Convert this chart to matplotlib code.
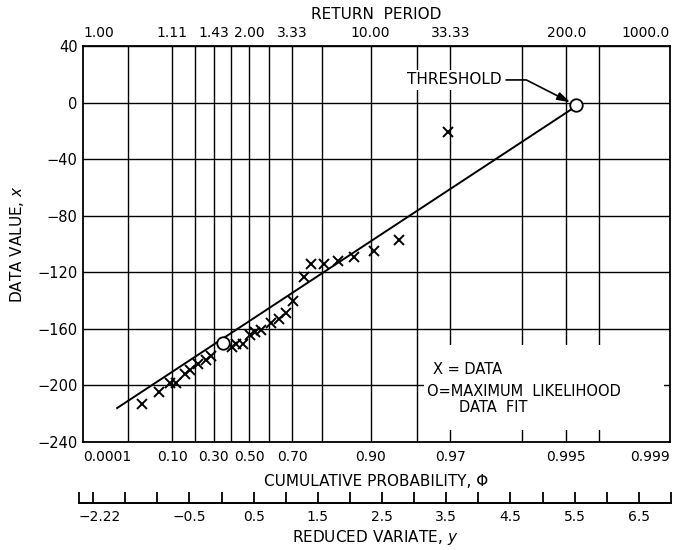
import numpy as np
import matplotlib.pyplot as plt
from matplotlib.patches import Rectangle

plt.rcParams['font.family'] = 'DejaVu Sans'


def rv(p):
    # gumbel reduced variate
    return -np.log(-np.log(np.asarray(p, dtype=float)))


grid_prob = [0.01, 0.1, 0.2, 0.3, 0.4, 0.5, 0.6, 0.7, 0.8, 0.9, 0.95, 0.97, 0.99, 0.995, 0.997]
prob_ticks = [0.0001, 0.10, 0.30, 0.50, 0.70, 0.90, 0.97, 0.995, 0.999]
prob_labels = ['0.0001', '0.10', '0.30', '0.50', '0.70', '0.90', '0.97', '0.995', '0.999']
return_labels = ['1.00', '1.11', '1.43', '2.00', '3.33', '10.00', '33.33', '200.0', '1000.0']
value_ticks = [-240, -200, -160, -120, -80, -40, 0, 40]

rv_ticks = [-2.22, -2.0, -1.5, -1.0, -0.5, 0.0, 0.5, 1.0, 1.5, 2.0, 2.5, 3.0, 3.5,
            4.0, 4.5, 5.0, 5.5, 6.0, 6.5, 7.0]
rv_labels = ['\u22122.22', '', '', '', '\u22120.5', '', '0.5', '', '1.5', '', '2.5', '',
             '3.5', '', '4.5', '', '5.5', '', '6.5', '']

# data (reduced variate, value)
data_rv = [-1.30, -1.04, -0.87, -0.78, -0.63, -0.55, -0.43, -0.30, -0.23, 0.09, 0.16,
           0.26, 0.37, 0.46, 0.55, 0.71, 0.82, 0.93, 1.04, 1.21, 1.33, 1.52, 1.74,
           2.00, 2.30, 2.69, 3.45]
data_val = [-213, -205, -198, -198, -192, -189, -185, -182, -179, -173, -171,
            -171, -164, -162, -161, -156, -153, -149, -140, -123, -114, -114, -112,
            -109, -105, -97, -21]

# maximum likelihood fit
fit_rv = [-0.05, 5.45]
fit_val = [-170, -2]
line_rv = [-1.69, 5.40]
line_val = [-216, -4]

xmin, xmax = rv(0.0001), rv(0.999)

fig = plt.figure(figsize=(6.74, 5.5), dpi=100)
ax = fig.add_axes([83 / 674, 1 - 442 / 550, 587 / 674, 396 / 550])
ax.set_xlim(xmin, xmax)
ax.set_ylim(-240, 40)

for s in ax.spines.values():
    s.set_linewidth(1.3)

ax.xaxis.remove_overlapping_locs = False
ax.set_xticks(rv(prob_ticks))
ax.set_xticklabels(prob_labels, fontsize=10)
ax.set_xticks(rv(grid_prob), minor=True)
ax.set_yticks(value_ticks)
ax.set_yticklabels([str(v).replace('-', '\u2212') for v in value_ticks], fontsize=10.5)
ax.tick_params(axis='both', which='both', length=0)
ax.tick_params(axis='x', pad=6)
ax.tick_params(axis='y', pad=4)
labs = ax.get_xticklabels()
labs[0].set_ha('left')
labs[-1].set_ha('right')
ax.grid(True, axis='x', which='minor', color='black', lw=1.0)
ax.grid(True, axis='y', which='major', color='black', lw=1.0)
ax.set_axisbelow(True)

ax.set_xlabel('CUMULATIVE PROBABILITY, \u03a6', fontsize=11, labelpad=7)
ax.set_ylabel('DATA VALUE, $x$', fontsize=11, labelpad=8)

# white area behind legend text
ax.add_patch(Rectangle((3.08, -231.5), 6.81 - 3.08, 60, facecolor='white',
                       edgecolor='none', zorder=1.5))

ax.plot(line_rv, line_val, color='black', lw=1.4, zorder=3)
ax.plot(data_rv, data_val, ls='none', marker='x', ms=7, mew=1.4, color='black', zorder=4)
ax.plot(fit_rv, fit_val, ls='none', marker='o', ms=9, mfc='white', mec='black',
        mew=1.3, zorder=5)

ax.annotate('THRESHOLD', xy=(fit_rv[1], fit_val[1]), xytext=(2.81, 16),
            fontsize=11, ha='left', va='center', zorder=6,
            bbox=dict(facecolor='white', edgecolor='none', pad=1.5),
            arrowprops=dict(arrowstyle='-|>,head_length=0.7,head_width=0.22',
                            color='black', lw=1.2, relpos=(1, 0.5), shrinkA=2,
                            shrinkB=5,
                            connectionstyle='angle,angleA=0,angleB=153,rad=0'))

ax.text(3.22, -189, 'X = DATA', fontsize=10.5, ha='left', va='center', zorder=6)
ax.text(3.13, -204, 'O=MAXIMUM  LIKELIHOOD', fontsize=10.5, ha='left', va='center',
        zorder=6)
ax.text(3.62, -215.5, 'DATA  FIT', fontsize=10.5, ha='left', va='center', zorder=6)

# return period axis on top
top = ax.twiny()
top.set_xlim(xmin, xmax)
top.set_xticks(rv(prob_ticks))
top.set_xticklabels(return_labels, fontsize=10)
top.tick_params(axis='x', length=0, pad=4)
tl = top.get_xticklabels()
tl[0].set_ha('left')
tl[-1].set_ha('right')
top.set_xlabel('RETURN  PERIOD', fontsize=11, labelpad=5)
for s in top.spines.values():
    s.set_visible(False)

# reduced variate scale
bot = fig.add_axes([79 / 674, 1 - 503 / 550, 592 / 674, 0.001])
bot.set_xlim(-2.22, 7.0)
bot.set_yticks([])
for k in ['left', 'right', 'top']:
    bot.spines[k].set_visible(False)
bot.spines['bottom'].set_linewidth(1.4)
bot.set_xticks(rv_ticks)
bot.set_xticklabels(rv_labels, fontsize=10)
bot.tick_params(axis='x', direction='in', length=8, width=1.3, pad=5)
bot.get_xticklabels()[0].set_ha('left')
bot.set_xlabel('REDUCED VARIATE, $y$', fontsize=11, labelpad=3)

fig.savefig('out.png', dpi=100)
